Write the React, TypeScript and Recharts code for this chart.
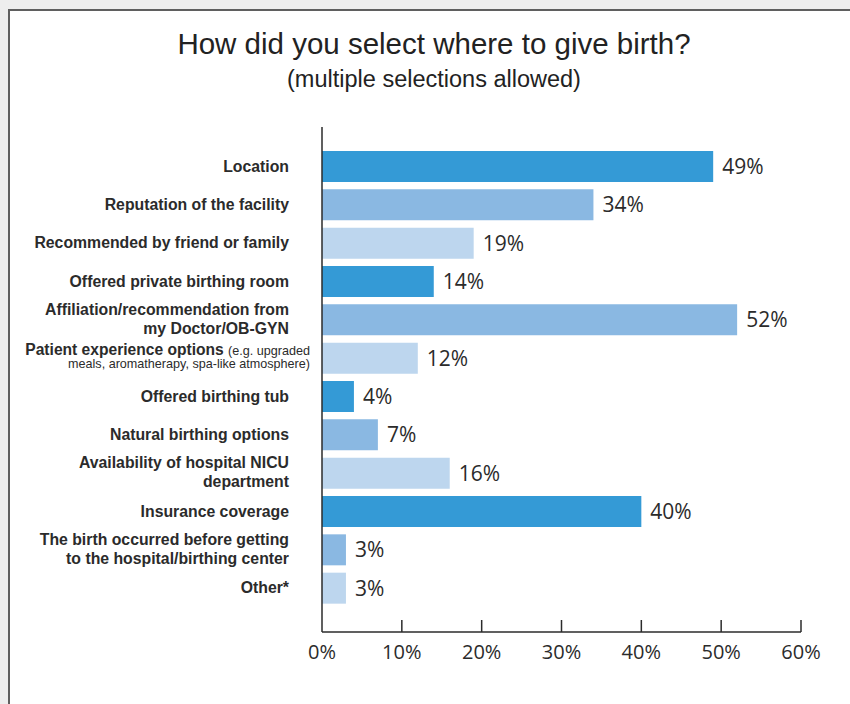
import React from "react";
import { BarChart, Bar, XAxis, YAxis, Cell, LabelList } from "recharts";

const categories = [
  "Location",
  "Reputation of the facility",
  "Recommended by friend or family",
  "Offered private birthing room",
  "Affiliation/recommendation from\nmy Doctor/OB-GYN",
  "Patient experience options|(e.g. upgraded\nmeals, aromatherapy, spa-like atmosphere)",
  "Offered birthing tub",
  "Natural birthing options",
  "Availability of hospital NICU\ndepartment",
  "Insurance coverage",
  "The birth occurred before getting\nto the hospital/birthing center",
  "Other*",
];
const percents = [49, 34, 19, 14, 52, 12, 4, 7, 16, 40, 3, 3];
const xTicks = [0, 10, 20, 30, 40, 50, 60];
const barColors = ["#349ad6", "#8ab8e2", "#bdd6ee"];

const data = categories.map((name, i) => ({ name, value: percents[i] }));

const LABEL_FONT = "'Liberation Sans', Arial, Helvetica, sans-serif";
const NUM_FONT = "'Open Sans', 'Noto Sans', sans-serif";
const INK = "#2b2b2b";

function CategoryTick(props: any) {
  const { x, y, payload } = props;
  const raw: string = payload.value;
  if (raw.includes("|")) {
    // bold heading followed by a smaller regular note
    const [head, rest] = raw.split("|");
    const [note1, note2] = rest.split("\n");
    const right = x - 12;
    return (
      <text textAnchor="end" fill={INK} fontFamily={LABEL_FONT}>
        <tspan x={right} y={y - 3}>
          <tspan fontWeight="bold" fontSize={15.6}>{head} </tspan>
          <tspan fontSize={12.6}>{note1}</tspan>
        </tspan>
        <tspan x={right} y={y + 10} fontSize={12.6}>
          {note2}
        </tspan>
      </text>
    );
  }
  const lines = raw.split("\n");
  const right = x - 33;
  const first = lines.length === 1 ? y + 5.5 : y - 5;
  return (
    <text
      textAnchor="end"
      fill={INK}
      fontFamily={LABEL_FONT}
      fontWeight="bold"
      fontSize={15.8}
    >
      {lines.map((ln, i) => (
        <tspan key={i} x={right} y={first + i * 19.5}>
          {ln}
        </tspan>
      ))}
    </text>
  );
}

function PercentTick(props: any) {
  const { x, y, payload } = props;
  return (
    <g>
      {payload.value !== 0 && (
        <line x1={x} x2={x} y1={y - 12} y2={y} stroke={INK} strokeWidth={1.5} />
      )}
      <text
        x={x}
        y={y + 27}
        textAnchor="middle"
        fill={INK}
        fontFamily={NUM_FONT}
        fontSize={20}
      >
        {payload.value}%
      </text>
    </g>
  );
}

export default function App() {
  return (
    <div style={{ position: "relative", width: 850, height: 704, overflow: "hidden" }}>
      <style>{`body{margin:0;background:#eeeeee;}`}</style>
      <div
        style={{
          position: "absolute",
          left: 8,
          top: 9,
          width: 860,
          height: 710,
          background: "#ffffff",
          borderLeft: "2px solid #5f5f5f",
          borderTop: "2px solid #5f5f5f",
        }}
      />
      <div
        style={{
          position: "absolute",
          left: 0,
          top: 27,
          width: 868,
          textAlign: "center",
          fontFamily: LABEL_FONT,
          fontSize: 29.5,
          color: "#222",
        }}
      >
        How did you select where to give birth?
      </div>
      <div
        style={{
          position: "absolute",
          left: 0,
          top: 66,
          width: 868,
          textAlign: "center",
          fontFamily: LABEL_FONT,
          fontSize: 23.5,
          color: "#222",
        }}
      >
        (multiple selections allowed)
      </div>
      <div style={{ position: "absolute", left: 0, top: 0 }}>
        <BarChart
          width={850}
          height={704}
          data={data}
          layout="vertical"
          margin={{ top: 127, right: 49, bottom: 32, left: 0 }}
          barSize={31}
        >
          <XAxis
            type="number"
            domain={[0, 60]}
            ticks={xTicks}
            height={40}
            tickSize={0}
            tickMargin={0}
            tickLine={false}
            axisLine={{ stroke: INK, strokeWidth: 1.5 }}
            tick={<PercentTick />}
            interval={0}
          />
          <YAxis
            type="category"
            dataKey="name"
            width={322}
            tickSize={0}
            tickMargin={0}
            tickLine={false}
            axisLine={{ stroke: INK, strokeWidth: 1.5 }}
            tick={<CategoryTick />}
            interval={0}
            padding={{ top: 20, bottom: 25 }}
          />
          <Bar dataKey="value" isAnimationActive={false}>
            {data.map((_, i) => (
              <Cell key={i} fill={barColors[i % 3]} />
            ))}
            <LabelList
              dataKey="value"
              position="right"
              offset={9}
              fill={INK}
              fontSize={21}
              fontFamily={NUM_FONT}
              formatter={(v: any) => `${v}%`}
            />
          </Bar>
        </BarChart>
      </div>
    </div>
  );
}
